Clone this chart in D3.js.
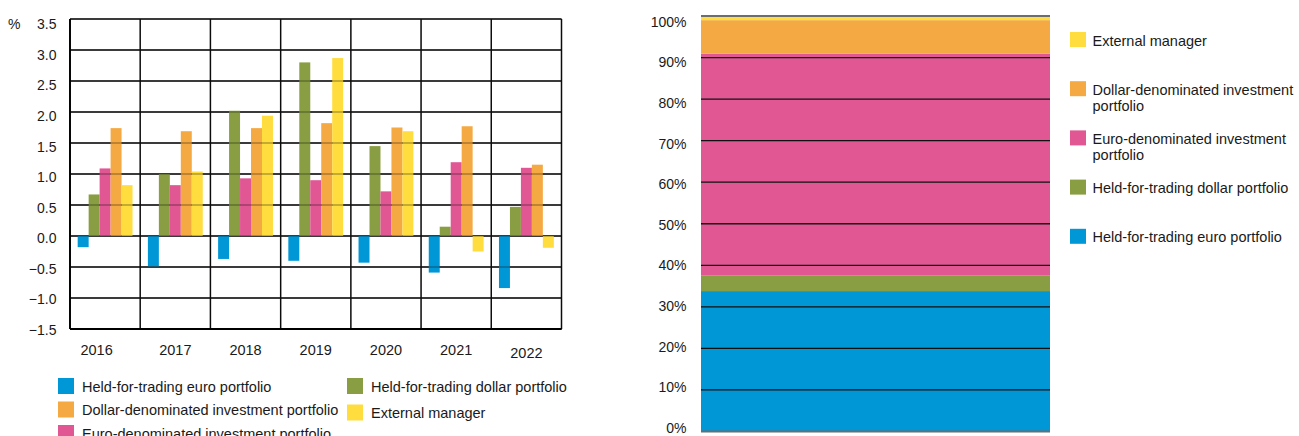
<!DOCTYPE html>
<html>
<head>
<meta charset="utf-8">
<script src="https://cdn.jsdelivr.net/npm/d3@7"></script>
<style>
  body { margin: 0; background: #fff; }
  svg { display: block; font-family: "Liberation Sans", Arial, sans-serif; }
</style>
</head>
<body>
<svg id="chart" width="1299" height="436"></svg>
<script>
// values
var years = ['2016', '2017', '2018', '2019', '2020', '2021', '2022'];
var heldEuro   = [-0.18, -0.49, -0.37, -0.40, -0.43, -0.59, -0.84];
var heldDollar = [0.67, 1.00, 2.02, 2.80, 1.45, 0.15, 0.47];
var euroInv    = [1.09, 0.82, 0.93, 0.90, 0.72, 1.19, 1.10];
var dollarInv  = [1.74, 1.69, 1.74, 1.82, 1.75, 1.77, 1.15];
var external   = [0.82, 1.04, 1.94, 2.87, 1.69, -0.25, -0.19];

// share of portfolio (%), right panel
var shareKeys   = ['heldEuro', 'heldDollar', 'euroInv', 'dollarInv', 'external'];
var shareValues = [33.8, 3.7, 53.4, 8.1, 1.0];

var seriesKeys = ['heldEuro', 'heldDollar', 'euroInv', 'dollarInv', 'external'];
var seriesNames = {
  heldEuro: 'Held-for-trading euro portfolio',
  heldDollar: 'Held-for-trading dollar portfolio',
  euroInv: 'Euro-denominated investment portfolio',
  dollarInv: 'Dollar-denominated investment portfolio',
  external: 'External manager'
};
var colours = {
  heldEuro: '#0097d7',
  heldDollar: '#899e42',
  euroInv: '#e05794',
  dollarInv: '#f5a942',
  external: '#ffdd3f'
};
var seriesData = {
  heldEuro: heldEuro, heldDollar: heldDollar, euroInv: euroInv,
  dollarInv: dollarInv, external: external
};
var yTicks = [-1.5, -1.0, -0.5, 0.0, 0.5, 1.0, 1.5, 2.0, 2.5, 3.0, 3.5];
var pctTicks = [0, 10, 20, 30, 40, 50, 60, 70, 80, 90, 100];

var svg = d3.select('#chart');
var FS = 14, FS_LEG = 14.5;

// ---------- left panel: grouped bars ----------
var left = { x0: 70, x1: 561.5, y0: 19, y1: 329 };

var x = d3.scaleBand().domain(years).range([left.x0, left.x1]);
var xInner = d3.scaleBand().domain(seriesKeys).range([0, x.bandwidth()]).paddingOuter(0.7);
var y = d3.scaleLinear().domain([-1.5, 3.5]).range([left.y1, left.y0]);
// tick labels sit on a slightly tighter spacing than the grid in the original
var yLab = d3.scaleLinear().domain([-1.5, 3.5]).range([335, 29.3]);

var gL = svg.append('g');

function gridLeft(sel, colour) {
  sel.selectAll('line.h').data(yTicks).join('line')
    .attr('class', 'h')
    .attr('x1', left.x0).attr('x2', left.x1)
    .attr('y1', function(d) { return y(d); })
    .attr('y2', function(d) { return y(d); })
    .attr('stroke', colour).attr('stroke-width', 1.4);
  sel.selectAll('line.v').data(years.concat(['end'])).join('line')
    .attr('class', 'v')
    .attr('x1', function(d) { return d === 'end' ? left.x1 : x(d); })
    .attr('x2', function(d) { return d === 'end' ? left.x1 : x(d); })
    .attr('y1', left.y0).attr('y2', left.y1)
    .attr('stroke', colour).attr('stroke-width', 1.4);
}

gridLeft(gL.append('g'), '#111');

var groups = gL.append('g').selectAll('g').data(years).join('g')
  .attr('transform', function(d) { return 'translate(' + x(d) + ',0)'; });

groups.selectAll('rect')
  .data(function(d, i) {
    return seriesKeys.map(function(k) { return { key: k, value: seriesData[k][i] }; });
  })
  .join('rect')
  .attr('x', function(d) { return xInner(d.key); })
  .attr('width', xInner.bandwidth())
  .attr('y', function(d) { return y(Math.max(0, d.value)); })
  .attr('height', function(d) { return Math.abs(y(d.value) - y(0)); })
  .attr('fill', function(d) { return colours[d.key]; });

// faint grid over the bars
gridLeft(gL.append('g').attr('opacity', 0.3), '#000');

// frame edges a bit heavier
gL.append('line').attr('x1', left.x0).attr('x2', left.x0).attr('y1', left.y0).attr('y2', left.y1)
  .attr('stroke', '#000').attr('stroke-width', 1.8);
gL.append('line').attr('x1', left.x0).attr('x2', left.x1).attr('y1', left.y1).attr('y2', left.y1)
  .attr('stroke', '#000').attr('stroke-width', 1.8);

// y tick labels
var yFmt = d3.format('.1f');
gL.append('g').selectAll('text').data(yTicks).join('text')
  .attr('x', 56.5)
  .attr('y', function(d) { return yLab(d); })
  .attr('text-anchor', 'end')
  .attr('font-size', FS)
  .attr('fill', '#1a1a1a')
  .text(function(d) { return yFmt(d); });

gL.append('text').attr('x', 8).attr('y', 28.5).attr('font-size', FS).attr('fill', '#1a1a1a').text('%');

// year labels, under the band centres (first one sits a little left)
gL.append('g').selectAll('text').data(years).join('text')
  .attr('x', function(d, i) { return x(d) + x.bandwidth() / 2 - (i === 0 ? 8.5 : 0); })
  .attr('y', function(d, i) { return i === years.length - 1 ? 357.5 : 355; })
  .attr('text-anchor', 'middle')
  .attr('font-size', FS_LEG)
  .attr('fill', '#1a1a1a')
  .text(function(d) { return d; });

// left legend (two columns)
var legendLeft = [
  { key: 'heldEuro', col: 0, row: 0 },
  { key: 'dollarInv', col: 0, row: 1 },
  { key: 'euroInv', col: 0, row: 2 },
  { key: 'heldDollar', col: 1, row: 0 },
  { key: 'external', col: 1, row: 1 }
];
var lg = gL.append('g').selectAll('g').data(legendLeft).join('g')
  .attr('transform', function(d) {
    return 'translate(' + (58 + d.col * 289) + ',' + (378 + d.row * 23.5 + d.col * d.row * 3) + ')';
  });
lg.append('rect').attr('width', 16).attr('height', 16)
  .attr('fill', function(d) { return colours[d.key]; });
lg.append('text').attr('x', 24).attr('y', 13.5)
  .attr('font-size', FS_LEG).attr('fill', '#1a1a1a')
  .text(function(d) { return seriesNames[d.key]; });

// ---------- right panel: 100% stacked bar ----------
var right = { x0: 701, x1: 1050, y0: 16, y1: 431.5 };
var xr = d3.scaleBand().domain(['share']).range([right.x0, right.x1]);
var yr = d3.scaleLinear().domain([0, 100]).range([right.y1, right.y0]);
var yrLab = d3.scaleLinear().domain([0, 100]).range([433, 26.7]);

var shareRow = { cat: 'share' };
shareKeys.forEach(function(k, i) { shareRow[k] = shareValues[i]; });
var stacked = d3.stack().keys(shareKeys)([shareRow]);

var gR = svg.append('g');
gR.selectAll('rect').data(stacked).join('rect')
  .attr('x', xr('share'))
  .attr('width', xr.bandwidth())
  .attr('y', function(s) { return yr(s[0][1]); })
  .attr('height', function(s) { return yr(s[0][0]) - yr(s[0][1]); })
  .attr('fill', function(s) { return colours[s.key]; });

gR.append('g').selectAll('line').data(pctTicks).join('line')
  .attr('x1', right.x0).attr('x2', right.x1)
  .attr('y1', function(d) { return yr(d); })
  .attr('y2', function(d) { return yr(d); })
  .attr('stroke', function(d) { return (d === 0 || d === 100) ? '#6d6d6d' : '#111'; })
  .attr('stroke-width', function(d) { return (d === 0 || d === 100) ? 1.8 : 1.3; });

gR.append('g').selectAll('text').data(pctTicks).join('text')
  .attr('x', 686.5)
  .attr('y', function(d) { return yrLab(d); })
  .attr('text-anchor', 'end')
  .attr('font-size', FS)
  .attr('fill', '#1a1a1a')
  .text(function(d) { return d + '%'; });

// right legend, top of stack first
var legendRight = shareKeys.slice().reverse();
var rg = gR.append('g').selectAll('g').data(legendRight).join('g')
  .attr('transform', function(d, i) { return 'translate(1070,' + (32 + i * 49.2) + ')'; });
rg.append('rect').attr('width', 16).attr('height', 15)
  .attr('fill', function(d) { return colours[d]; });
rg.append('text').attr('x', 22.5).attr('y', 13.5)
  .attr('font-size', FS_LEG).attr('fill', '#1a1a1a')
  .each(function(d) {
    var t = d3.select(this);
    var words = seriesNames[d].split(' ');
    var line = [], tspan = t.append('tspan').attr('x', 22.5).attr('dy', 0);
    words.forEach(function(w) {
      line.push(w);
      tspan.text(line.join(' '));
      if (tspan.node().getComputedTextLength() > 210 && line.length > 1) {
        line.pop();
        tspan.text(line.join(' '));
        line = [w];
        tspan = t.append('tspan').attr('x', 22.5).attr('dy', 16).text(w);
      }
    });
  });
</script>
</body>
</html>
